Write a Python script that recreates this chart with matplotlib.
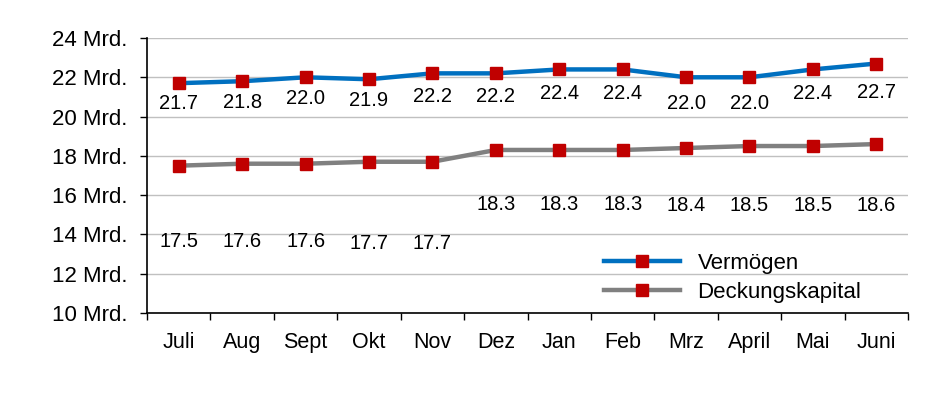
import matplotlib
matplotlib.use("Agg")
import matplotlib.pyplot as plt

months = ["Juli", "Aug", "Sept", "Okt", "Nov", "Dez", "Jan", "Feb", "Mrz", "April", "Mai", "Juni"]
vermoegen = [21.7, 21.8, 22.0, 21.9, 22.2, 22.2, 22.4, 22.4, 22.0, 22.0, 22.4, 22.7]
deckung = [17.5, 17.6, 17.6, 17.7, 17.7, 18.3, 18.3, 18.3, 18.4, 18.5, 18.5, 18.6]
y_ticks = [10, 12, 14, 16, 18, 20, 22, 24]
y_labels = [f"{t} Mrd." for t in y_ticks]

# label offsets below the points, in pixels
off_v = [20, 21, 21, 21, 23, 23, 24.5, 24.5, 26, 26, 24.5, 28.5]
off_d = [76, 78, 78, 82, 82, 55, 55, 55, 57, 59, 59, 61]

plt.rcParams["font.family"] = ["Liberation Sans", "DejaVu Sans"]

fig = plt.figure(figsize=(9.53, 3.98), dpi=100)
ax = fig.add_axes([0.1543, 0.2136, 0.7985, 0.6909])

x = list(range(len(months)))
ax.plot(x, vermoegen, color="#0070C0", lw=3.2, marker="s", ms=8,
        mfc="#C00000", mec="#C00000", label="Vermögen", zorder=3)
ax.plot(x, deckung, color="#808080", lw=3.2, marker="s", ms=8,
        mfc="#C00000", mec="#C00000", label="Deckungskapital", zorder=3)

for i in x:
    ax.annotate(f"{vermoegen[i]:.1f}", (i, vermoegen[i]), xytext=(0, -off_v[i]),
                textcoords="offset pixels", ha="center", va="center", fontsize=14.5)
    ax.annotate(f"{deckung[i]:.1f}", (i, deckung[i]), xytext=(0, -off_d[i]),
                textcoords="offset pixels", ha="center", va="center", fontsize=14.5)

ax.set_xlim(-0.5, len(months) - 0.5)
ax.set_ylim(10, 24)
ax.set_yticks(y_ticks)
ax.set_yticklabels(y_labels, fontsize=16)
ax.set_xticks(x)
ax.set_xticklabels(months, fontsize=15.5)
ax.set_xticks([i - 0.5 for i in range(len(months) + 1)], minor=True)
ax.tick_params(axis="x", which="major", length=0, pad=14)
ax.tick_params(axis="x", which="minor", length=5, width=1)
ax.tick_params(axis="y", length=5, width=1, pad=9)
ax.grid(axis="y", color="#c0c0c0", lw=1)
ax.set_axisbelow(True)
for s in ["top", "right"]:
    ax.spines[s].set_visible(False)
for s in ["left", "bottom"]:
    ax.spines[s].set_linewidth(1.2)

ax.legend(loc="lower right", bbox_to_anchor=(0.965, -0.035), frameon=False, fontsize=16,
          handlelength=3.4, handletextpad=0.8, labelspacing=0.35)

fig.savefig("out.png", dpi=100)
